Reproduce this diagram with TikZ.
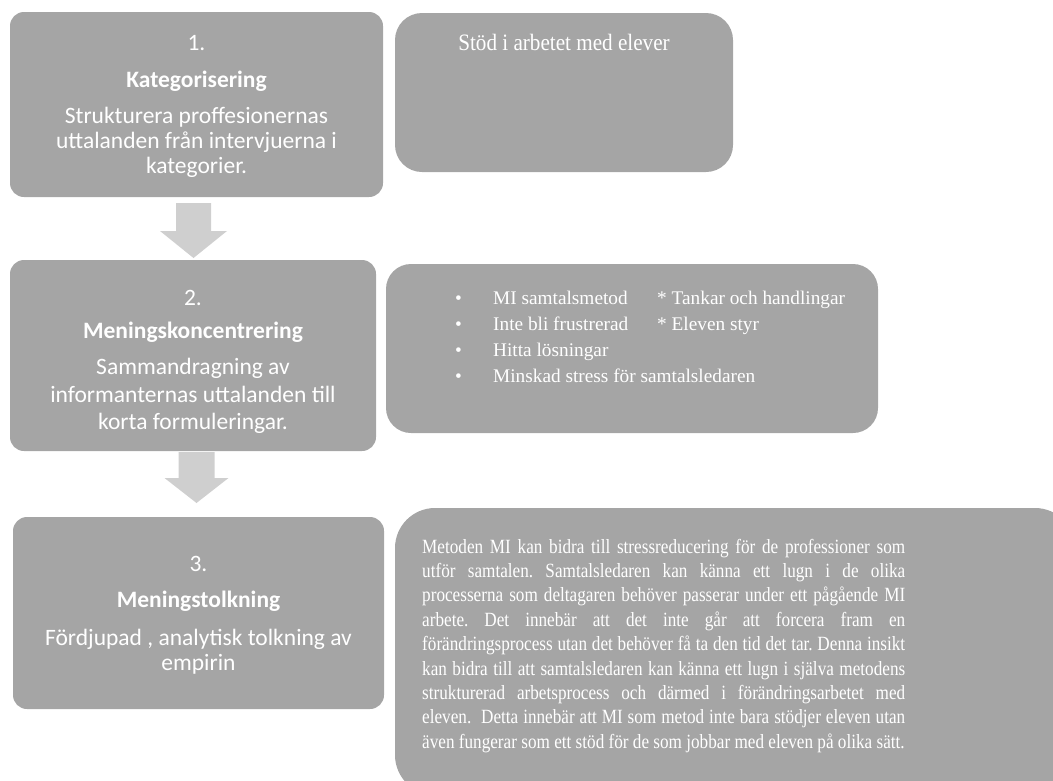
\documentclass[tikz,border=0pt]{standalone}
\usepackage{fontspec}
\setmainfont{Liberation Serif}
\newfontfamily\calibrifont{Carlito}
\newfontfamily\narrowserif[FakeStretch=0.9]{Liberation Serif}
\newfontfamily\tallserif[FakeStretch=0.85]{Liberation Serif}
\usepackage{xcolor}
\usepackage{tikz}
\usetikzlibrary{positioning}
\definecolor{boxgrey}{HTML}{A5A5A5}
\definecolor{arrowgrey}{HTML}{CFCFCF}

\begin{document}
\begin{tikzpicture}[x=1pt,y=-1pt]
\tikzstyle{every node}+=[inner sep=0pt, text=white]
\tikzstyle{stepbox}=[fill=boxgrey, rounded corners=14pt, align=center, font=\calibrifont\fontsize{23.5}{25}\selectfont]
\tikzstyle{notebox}=[fill=boxgrey]
\useasboundingbox (0,0) rectangle (1053,780);
\clip (0,0) rectangle (1053,780);
% left column: the three steps
\node [stepbox, minimum width=373pt, minimum height=185pt] (kat) at (196.5,104.5) {\rule{0pt}{20pt}1.\\[12pt]\textbf{Kategorisering}\\[11pt]Strukturera proffesionernas\\uttalanden från intervjuerna i\\kategorier.};
\node [stepbox, minimum width=366pt, minimum height=191pt, font=\calibrifont\fontsize{23.5}{27.5}\selectfont] (men) at (193,355.5) {\rule{0pt}{29pt}2.\\[5.5pt]\textbf{Meningskoncentrering}\\[8.5pt]Sammandragning av\\informanternas uttalanden till\\korta formuleringar.};
\node [stepbox, minimum width=371pt, minimum height=192pt] (tolk) at (198.5,613) {\rule{0pt}{20pt}3.\\[11pt]\textbf{Meningstolkning}\\[13pt]Fördjupad , analytisk tolkning av\\empirin};
% block arrows
\fill [arrowgrey] (176,203) -- (211,203) -- (211,231) -- (227,231) -- (193.5,258) -- (160,231) -- (176,231) -- cycle;
\fill [arrowgrey] (178.5,452) -- (214.5,452) -- (214.5,478) -- (228.5,478) -- (196.5,503) -- (164.5,478) -- (178.5,478) -- cycle;
% right column
\node [notebox, rounded corners=27pt, minimum width=338pt, minimum height=159pt] (stod) at (564,92.5) {};
\node [below=38pt of stod.north, anchor=base, font=\narrowserif\fontsize{23.5}{25}\selectfont] (stodtext) {Stöd i arbetet med elever};
\node [notebox, rounded corners=25pt, minimum width=492pt, minimum height=169pt] (mi) at (632,348.5) {};
\node [anchor=base west, font=\fontsize{19.3}{26}\selectfont] (milist) at (455,304) {\begin{tabular}[t]{@{}p{38pt}@{}p{164pt}@{}l@{}}
•&MI samtalsmetod&* Tankar och handlingar\\
•&Inte bli frustrerad&* Eleven styr\\
•&Hitta lösningar&\\
•&\multicolumn{2}{@{}l@{}}{Minskad stress för samtalsledaren}
\end{tabular}};
\node [notebox, rounded corners=40pt, minimum width=680pt, minimum height=287pt] (metod) at (735,651.5) {};
\node [anchor=base west, font=\tallserif\fontsize{20.2}{24.4}\selectfont] (metodtext) at (422,553) {\begin{minipage}[t]{483pt}\noindent\hyphenpenalty=10000\frenchspacing
Metoden MI kan bidra till stressreducering för de professioner som\linebreak
utför samtalen. Samtalsledaren kan känna ett lugn i de olika\linebreak
processerna som deltagaren behöver passerar under ett pågående MI\linebreak
arbete. Det innebär att det inte går att forcera fram en\linebreak
förändringsprocess utan det behöver få ta den tid det tar. Denna insikt\linebreak
kan bidra till att samtalsledaren kan känna ett lugn i själva metodens\linebreak
strukturerad arbetsprocess och därmed i förändringsarbetet med\linebreak
eleven.\ \ Detta innebär att MI som metod inte bara stödjer eleven utan\linebreak
även fungerar som ett stöd för de som jobbar med eleven på olika sätt.
\end{minipage}};
\end{tikzpicture}
\end{document}
